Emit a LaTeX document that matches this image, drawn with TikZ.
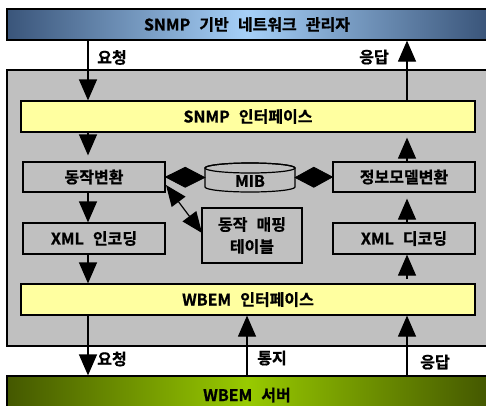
\documentclass[tikz,border=0pt]{standalone}
\usepackage{fontspec}
\setmainfont{Noto Sans CJK KR}[BoldFont={Noto Sans CJK KR Bold}, BoldFeatures={FakeBold=0.8}, WordSpace=2.5]
\usetikzlibrary{arrows.meta,calc}
\definecolor{mgrdark}{RGB}{58,85,122}
\definecolor{mgrlight}{RGB}{166,208,248}
\definecolor{srvdark}{RGB}{68,88,0}
\definecolor{srvlight}{RGB}{152,202,0}
\definecolor{ifyellow}{RGB}{255,255,160}
\definecolor{panelgray}{RGB}{192,192,192}
\tikzset{
  txt/.style={font=\bfseries\fontsize{16}{18}\selectfont},
  bar/.style={draw=black, line width=1.2pt, inner sep=0pt, minimum width=480pt, minimum height=31pt, txt},
  iface/.style={draw=black, line width=1.2pt, fill=ifyellow, inner sep=0pt, minimum width=454pt, minimum height=31pt, txt},
  stepbox/.style={draw=black, line width=1.2pt, inner sep=0pt, minimum width=142pt, minimum height=30pt, txt},
  arr/.style={line width=1.2pt, -{Triangle[width=18pt,length=21pt]}},
  dia/.style={fill=black, line width=0.8pt, draw=black, line join=miter},
  dbl/.style={line width=1.2pt, {Triangle[width=17pt,length=21pt]}-{Triangle[width=17pt,length=21pt]}},
  lbl/.style={inner sep=0pt, txt}
}
\begin{document}
\begin{tikzpicture}[x=1pt,y=-1pt]
\useasboundingbox (0,0) rectangle (486,405);
\clip (0,0) rectangle (486,405);
\fill[white] (0,0) rectangle (486,405);
% panel
\node[draw=black, line width=1.2pt, fill=panelgray, inner sep=0pt, minimum width=483pt, minimum height=276pt] (panel) at (248.5,208) {};
% bars
\node[bar, left color=mgrdark, right color=mgrdark, middle color=mgrlight] (mgr) at (247,24.5) {SNMP 기반 네트워크 관리자};
\node[bar, minimum height=38pt, left color=srvdark, right color=srvdark, middle color=srvlight] (srv) at (247,395) {WBEM 서버};
% interfaces
\node[iface] (snmp) at (248,116.5) {SNMP 인터페이스};
\node[iface] (wbem) at (248,299.5) {WBEM 인터페이스};
% boxes
\node[stepbox] (op) at (94,177) {동작변환};
\node[stepbox] (info) at (404,177) {정보모델변환};
\node[stepbox, minimum height=31pt] (enc) at (94,238.5) {XML 인코딩};
\node[stepbox, minimum height=31pt] (dec) at (404,238.5) {XML 디코딩};
\node[stepbox, minimum width=100pt, minimum height=55pt, align=center, font=\bfseries\fontsize{16}{22}\selectfont] (map) at (252,235.5) {동작 매핑\\테이블};
% MIB cylinder
\node[inner sep=0pt, minimum width=90pt, minimum height=29pt] (mib) at (250,177.5) {};
\draw[line width=1.2pt, fill=panelgray] (205,168) -- (205,187) arc[start angle=180, end angle=0, x radius=45, y radius=5] -- (295,168) arc[start angle=0, end angle=-180, x radius=45, y radius=5] -- cycle;
\draw[line width=1.2pt] (250,168) ellipse [x radius=45, y radius=5];
\node[lbl] at (250,181) {MIB};
% x positions of vertical connectors
\coordinate (ax) at (88,0);
\coordinate (bx) at (407,0);
\coordinate (cx) at (247,0);
% vertical connectors
\draw[arr] (mgr.south -| ax) -- (snmp.north -| ax);
\draw[arr] (snmp.north -| bx) -- (mgr.south -| bx);
\draw[arr, shorten >=6pt] (snmp.south -| ax) -- (op.north -| ax);
\draw[arr, shorten >=5pt] (info.north -| bx) -- (snmp.south -| bx);
\draw[arr] (op.south -| ax) -- (enc.north -| ax);
\draw[arr, shorten >=6pt] (dec.north -| bx) -- (info.south -| bx);
\draw[arr] (enc.south -| ax) -- (wbem.north -| ax);
\draw[arr, shorten <=4pt] (wbem.north -| bx) -- (dec.south -| bx);
\draw[arr] (wbem.south -| ax) -- (srv.north -| ax);
\draw[arr] (srv.north -| cx) -- (wbem.south -| cx);
\draw[arr] (srv.north -| bx) -- (wbem.south -| bx);
% MIB links (diamond connectors)
\draw[dia] (op.east) -- ($(op.east)!0.5!(mib.west)+(0,-10)$) -- (mib.west) -- ($(op.east)!0.5!(mib.west)+(0,10)$) -- cycle;
\draw[dia] (mib.east) -- ($(mib.east)!0.5!(info.west)+(0,-10)$) -- (info.west) -- ($(mib.east)!0.5!(info.west)+(0,10)$) -- cycle;
% mapping table link
\coordinate (d1) at (166,185);
\coordinate (d2) at (202,233);
\draw[dbl] (d1) -- (d2);
% labels
\node[lbl] at (112,57.5) {요청};
\node[lbl] at (374,57) {응답};
\node[lbl] at (112,359) {요청};
\node[lbl] at (272,358) {통지};
\node[lbl] at (435,362) {응답};
\end{tikzpicture}
\end{document}
